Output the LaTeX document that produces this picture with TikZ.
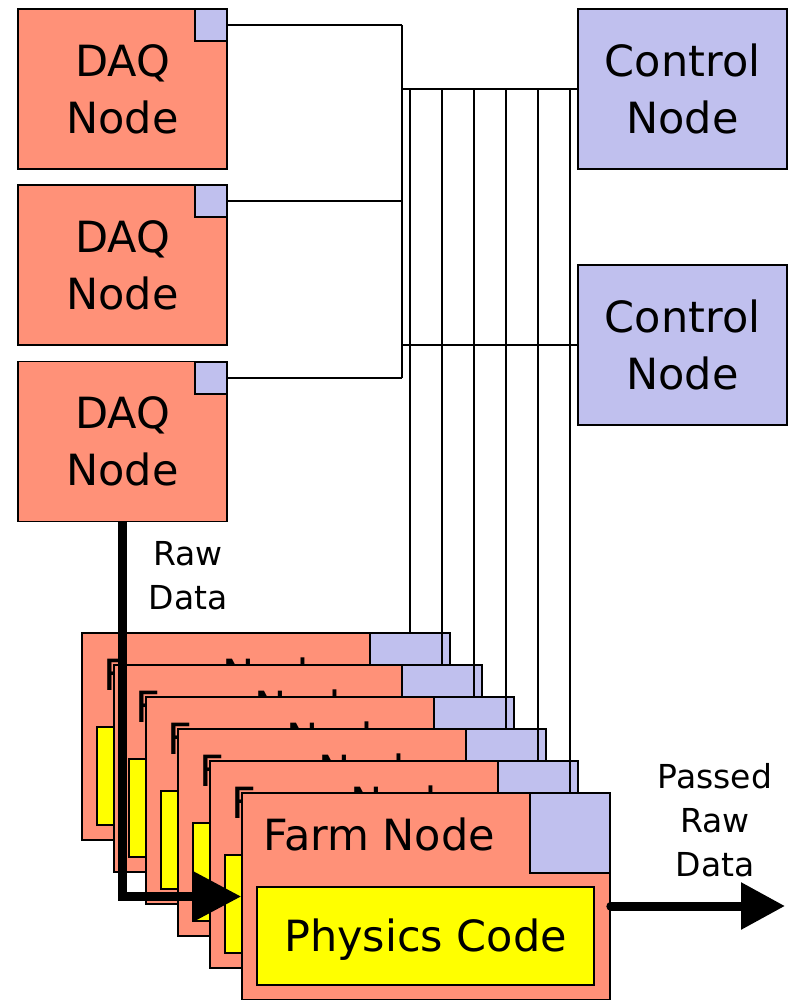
\documentclass[tikz,border=0pt]{standalone}
\usepackage{fontspec}
\setmainfont{DejaVu Sans}
\usetikzlibrary{arrows.meta}
\definecolor{salmon}{RGB}{255,145,120}
\definecolor{lav}{RGB}{192,192,238}
\definecolor{codeyellow}{RGB}{255,255,0}
\newcommand\biglbl{\fontsize{43}{57}\selectfont}
\newcommand\smalllbl{\fontsize{33}{44}\selectfont}
\begin{document}
\begin{tikzpicture}[x=1pt,y=-1pt,
  border/.style={draw=black, line width=1.6pt, inner sep=0pt},
  daqbox/.style={border, fill=salmon, minimum width=209pt, minimum height=160pt, align=center, font=\biglbl},
  ctrlbox/.style={border, fill=lav, minimum width=209pt, minimum height=160pt, align=center, font=\biglbl},
  port/.style={border, fill=lav, minimum width=32pt, minimum height=32pt},
  farmbox/.style={border, fill=salmon, minimum width=368pt, minimum height=207pt},
  farmport/.style={border, fill=lav, minimum width=80pt, minimum height=80pt},
  codebox/.style={border, fill=codeyellow, minimum width=337pt, minimum height=98pt, font=\biglbl, text height=31pt, text depth=0pt},
  farmlbl/.style={inner sep=0pt, font=\biglbl, anchor=west},
  note/.style={inner sep=0pt, align=center, font=\smalllbl},
  bus/.style={draw=black, line width=1.8pt},
  fat/.style={draw=black, line width=9pt},
]
\useasboundingbox (0,0) rectangle (797,1000);

% DAQ nodes with their network ports
\node[daqbox] (d1) at (122.5,89) {DAQ\\Node};
\node[port] (q1) at (211,25) {};
\node[daqbox] (d2) at (122.5,265) {DAQ\\Node};
\node[port] (q2) at (211,201) {};
\node[daqbox] (d3) at (122.5,441.5) {DAQ\\Node};
\node[port] (q3) at (211,378) {};

% control nodes
\node[ctrlbox] (c1) at (682.5,89) {Control\\Node};
\node[ctrlbox] (c2) at (682.5,345) {Control\\Node};

% stack of farm nodes, each one drawn over the previous
\foreach \i in {0,...,5} {
  \pgfmathsetmacro\fx{82+32*\i}
  \pgfmathsetmacro\fy{633+32*\i}
  \node[farmbox] (f\i) at ({\fx+184},{\fy+103.5}) {};
  \node[farmport] (fs\i) at ({\fx+328},{\fy+40}) {};
  \node[farmlbl] (fl\i) at ({\fx+21},{\fy+41.5}) {Farm Node};
  \node[codebox] (fc\i) at ({\fx+183.5},{\fy+143}) {Physics Code};
}

% network wiring
\coordinate (vx) at (402,0);
\draw[bus] (q1.east) -- (q1.east -| vx);
\draw[bus] (q2.east) -- (q2.east -| vx);
\draw[bus] (q3.east) -- (q3.east -| vx);
\draw[bus] (q1.east -| vx) -- (q3.east -| vx);
\draw[bus] (c1.west) -- (c1.west -| vx);
\draw[bus] (c2.west) -- (c2.west -| vx);
\foreach \i in {0,...,5} {
  \draw[bus] (fs\i.north) -- (fs\i.north |- c1.west);
}

% data flow
\node[note] (rawlbl) at (188,575.5) {Raw\\Data};
\draw[fat, -{Triangle[length=47pt,width=47pt]}] (d3.south) |- (f5.west);

\node[note] (passlbl) at (715,820) {Passed\\Raw\\Data};
\coordinate (pend) at (785,906);
\draw[fat, line cap=round, -{Triangle[length=44pt,width=45pt]}] (f5.east |- pend) -- (pend);
\end{tikzpicture}
\end{document}
